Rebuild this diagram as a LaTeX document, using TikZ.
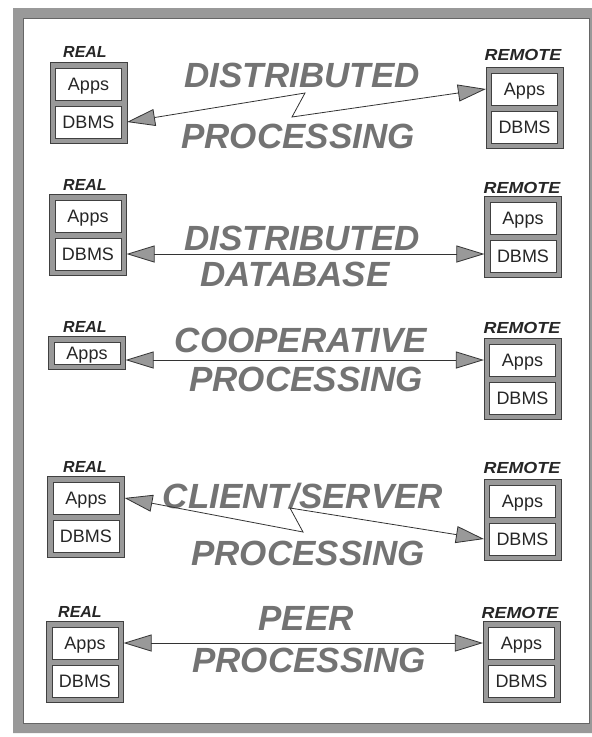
\documentclass[tikz,border=0pt]{standalone}
\usepackage{fontspec}
\setmainfont{Liberation Sans}
\usetikzlibrary{arrows.meta,fit,backgrounds}
\newcommand\appdbms[3]{%
  \node[cell] (#1a) at (#2,#3) {Apps};
  \node[cell] (#1d) at (#2,#3+38) {DBMS};
  \begin{scope}[on background layer]\node[boxframe,fit=(#1a)(#1d)] (#1box) {};\end{scope}}
\begin{document}
\begin{tikzpicture}[x=1pt,y=-1pt,
  cell/.style={draw=black!75, line width=0.6pt, fill=white, minimum width=66pt, minimum height=32pt, inner sep=0pt, text height=13pt, text depth=0pt, text=black!85, font=\fontsize{18}{18}\selectfont},
  boxframe/.style={draw=black!75, line width=0.6pt, fill=black!40, inner sep=5pt},
  side/.style={font=\fontsize{16}{16}\selectfont\bfseries\itshape, text=black!85, anchor=base, inner sep=0pt},
  big/.style={font=\fontsize{35}{35}\selectfont\bfseries\itshape, text=black!55, anchor=base, inner sep=0pt},
  link/.style={draw=black!80, line width=0.8pt, arrows={Triangle[length=28pt,width=17pt,fill=black!40]-Triangle[length=28pt,width=17pt,fill=black!40]}},
]
\useasboundingbox (0,0) rectangle (592,737);
\begin{scope}[on background layer]\fill[white] (0,0) rectangle (592,737);\end{scope}
% outer frame
\fill[black!40, even odd rule] (13,8) rectangle (592,733) (23,18) rectangle (589,723);
\draw[black!60, line width=0.5pt] (23,18) rectangle (589,723);

% ---------- Row 1: distributed processing
\node[side] (l1) at (85,57) {REAL};
\node[side, xscale=1.12] (n1) at (523,60) {REMOTE};
\appdbms{r1}{88.5}{84}
\appdbms{m1}{524.5}{89}
\node[big] (t1a) at (302,87) {DISTRIBUTED};
\node[big] (t1b) at (298,148) {PROCESSING};
\coordinate (z1a) at (305,93);
\coordinate (z1b) at (292,117);
\draw[link] (r1box.east |- r1d) -- (z1a) -- (z1b) -- (m1box.west |- m1a);

% ---------- Row 2: distributed database
\node[side] (l2) at (85,190) {REAL};
\node[side, xscale=1.12] (n2) at (522,193) {REMOTE};
\appdbms{r2}{88}{216}
\appdbms{m2}{523}{218}
\node[big] (t2a) at (302,250) {DISTRIBUTED};
\node[big] (t2b) at (295,286) {DATABASE};
\draw[link] (r2box.east |- r2d) -- (m2box.west |- r2d);

% ---------- Row 3: cooperative processing
\node[side] (l3) at (85,332) {REAL};
\node[side, xscale=1.12] (n3) at (522,333) {REMOTE};
\node[cell, minimum height=22pt] (r3a) at (87,353) {Apps};
\begin{scope}[on background layer]\node[boxframe,fit=(r3a)] (r3box) {};\end{scope}
\appdbms{m3}{522.5}{360}
\node[big] (t3a) at (301,352) {COOPERATIVE};
\node[big] (t3b) at (306,391) {PROCESSING};
\draw[link] (r3box.east |- m3a) -- (m3box.west |- m3a);

% ---------- Row 4: client/server processing
\node[side] (l4) at (85,472) {REAL};
\node[side, xscale=1.12] (n4) at (522,473) {REMOTE};
\appdbms{r4}{86}{498}
\appdbms{m4}{522.5}{501}
\node[big] (t4a) at (303,508) {CLIENT/SERVER};
\node[big] (t4b) at (308,565) {PROCESSING};
\coordinate (z4a) at (303,532);
\coordinate (z4b) at (290,508);
\draw[link] (r4box.east |- r4a) -- (z4a) -- (z4b) -- (m4box.west |- m4d);

% ---------- Row 5: peer processing
\node[side] (l5) at (80,617) {REAL};
\node[side, xscale=1.12] (n5) at (520,618) {REMOTE};
\appdbms{r5}{85}{643}
\appdbms{m5}{521.5}{643}
\node[big] (t5a) at (306,630) {PEER};
\node[big] (t5b) at (309,672) {PROCESSING};
\draw[link] (r5box.east |- r5a) -- (m5box.west |- m5a);
\end{tikzpicture}
\end{document}
